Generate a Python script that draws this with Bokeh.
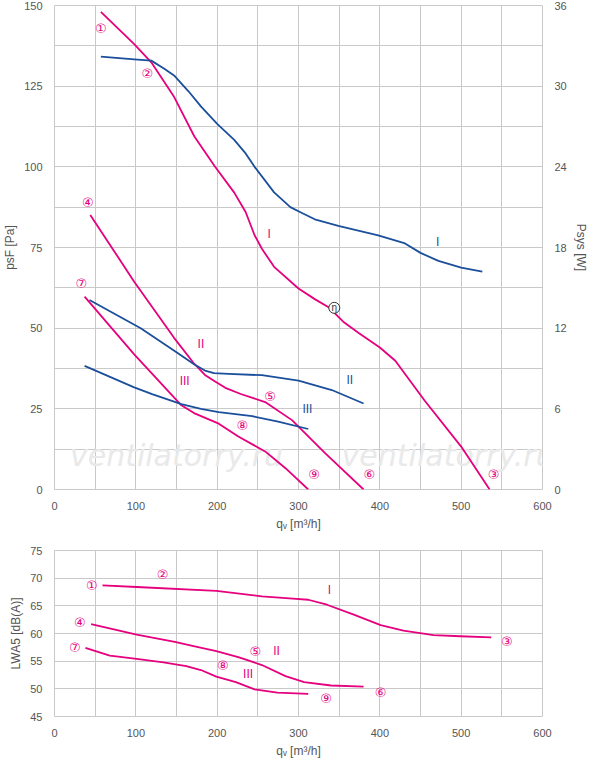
from bokeh.plotting import figure
from bokeh.layouts import column
from bokeh.models import Range1d, LinearAxis, FixedTicker
from bokeh.core.properties import value
from bokeh.embed import file_html
from bokeh.resources import INLINE

PINK = "#e5007d"
BLUE = "#1b4f9b"
GRID = "#c9c9c9"
FONT = "Liberation Sans"

# pressure curves, q [m3/h] -> psF [Pa]
p1_q = [57, 98, 119, 147, 172, 197, 221, 235, 246, 255, 270, 300, 320, 337, 355, 374, 400, 419, 455, 500, 535]
p1_v = [148, 138, 132.4, 121.7, 109.4, 100.2, 92, 86, 78.8, 74.6, 69, 62.3, 59, 56.5, 52, 48.5, 44, 39.9, 27.6, 13.3, 0]
p2_q = [44, 98, 147, 172, 185, 196, 210, 229, 259, 292, 333, 380]
p2_v = [85.1, 64.4, 47, 38.9, 35.5, 33.7, 31.5, 29.6, 27.1, 21.5, 11.2, 0]
p3_q = [37, 98, 156, 173, 202, 226, 259, 284, 312]
p3_v = [59.8, 41.9, 26.1, 23.5, 20.4, 16.4, 11.8, 6.6, 0]

# power curves, q [m3/h] -> Psys [W]
w1_q = [57, 98, 119, 135, 147, 165, 180, 200, 221, 235, 246, 270, 290, 303, 320, 349, 398, 431, 450, 472, 500, 526]
w1_v = [32.2, 32.0, 31.9, 31.3, 30.8, 29.6, 28.5, 27.2, 26.0, 25.0, 24.0, 22.1, 21.0, 20.6, 20.1, 19.6, 18.9, 18.3, 17.6, 17.0, 16.5, 16.2]
w2_q = [43, 106, 150, 172, 185, 196, 214, 255, 300, 341, 380]
w2_v = [14.1, 12.0, 10.2, 9.3, 8.85, 8.65, 8.6, 8.5, 8.1, 7.4, 6.4]
w3_q = [37, 98, 120, 156, 180, 202, 243, 275, 312]
w3_v = [9.2, 7.6, 7.1, 6.35, 6.0, 5.75, 5.45, 5.05, 4.5]

# sound power curves, q [m3/h] -> LWA5 [dB(A)]
l1_q = [59, 101, 199, 255, 293, 312, 335, 368, 401, 429, 466, 499, 537]
l1_v = [68.7, 68.4, 67.7, 66.7, 66.3, 66.1, 65.2, 63.4, 61.5, 60.5, 59.7, 59.5, 59.3]
l2_q = [45, 101, 148, 171, 199, 227, 255, 284, 307, 340, 380]
l2_v = [61.7, 59.8, 58.5, 57.7, 56.8, 55.7, 54.3, 52.3, 51.2, 50.6, 50.4]
l3_q = [38, 68, 101, 134, 162, 180, 199, 223, 246, 274, 312]
l3_v = [57.4, 56.0, 55.4, 54.8, 54.1, 53.4, 52.2, 51.2, 49.9, 49.3, 49.1]

# labels
top_marks = ["①", "②", "④", "⑦", "⑤", "⑧", "⑨", "⑥", "③"]
top_mark_q = [57, 114, 41, 33, 265, 231, 319, 387, 540]
top_mark_v = [143, 129, 89, 63.7, 28.7, 19.8, 4.5, 4.5, 4.5]
top_rom_p = ["I", "II", "III"]
top_rom_p_q = [264, 180, 160]
top_rom_p_v = [79.3, 45, 33.6]
top_rom_w = ["I", "II", "III"]
top_rom_w_q = [471, 363, 311]
top_rom_w_v = [76.6, 34, 25]
eta_q, eta_v = 344, 56.3

bot_marks = ["①", "②", "③", "④", "⑦", "⑤", "⑧", "⑥", "⑨"]
bot_mark_q = [46, 133, 556, 31, 25, 247, 207, 401, 334]
bot_mark_v = [68.7, 70.7, 58.6, 62, 57.5, 56.8, 54.2, 49.4, 48.3]
bot_rom = ["I", "II", "III"]
bot_rom_q = [338, 273, 238]
bot_rom_v = [67.8, 56.9, 52.6]


def style(p, yticks, yminor):
    p.xaxis.ticker = FixedTicker(ticks=list(range(0, 601, 100)), minor_ticks=list(range(0, 601, 50)))
    p.yaxis.ticker = FixedTicker(ticks=yticks, minor_ticks=yminor)
    for g in (p.xgrid, p.ygrid):
        g.grid_line_color = GRID
        g.minor_grid_line_color = GRID
    p.outline_line_color = GRID
    p.xaxis.axis_label = "qᵥ [m³/h]"
    for ax in p.axis:
        ax.axis_line_color = None
        ax.major_tick_line_color = None
        ax.minor_tick_line_color = None
        ax.major_label_text_color = "#555555"
        ax.major_label_text_font = FONT
        ax.major_label_text_font_size = "11px"
        ax.axis_label_text_color = "#555555"
        ax.axis_label_text_font = FONT
        ax.axis_label_text_font_size = "12px"
        ax.axis_label_text_font_style = "normal"
        ax.axis_label_standoff = 4
        ax.major_label_standoff = 6


p = figure(frame_width=488, frame_height=484, x_range=Range1d(0, 600), y_range=Range1d(0, 150),
           output_backend="svg", toolbar_location=None, min_border_top=5, min_border_left=10,
           min_border_right=10, min_border_bottom=10)
p.extra_y_ranges = {"w": Range1d(0, 36)}
right = LinearAxis(y_range_name="w", axis_label="Psys [W]")
p.add_layout(right, "right")
style(p, list(range(0, 151, 25)), [i * 12.5 for i in range(13)])
right.ticker = FixedTicker(ticks=list(range(0, 37, 6)))
p.yaxis[0].axis_label = "psF [Pa]"

for txt, xx in (("ventilatorry.ru", 150), ("ventilatorry.ru", 484)):
    p.text(x=[xx], y=[10.5], text=[txt], text_align="center", text_baseline="middle",
           text_color="#e9e9e9", text_font=value("DejaVu Sans"), text_font_style="italic",
           text_font_size="30px")

for qq, vv in ((p1_q, p1_v), (p2_q, p2_v), (p3_q, p3_v)):
    p.line(qq, vv, line_color=PINK, line_width=1.8, line_join="round")
for qq, vv in ((w1_q, w1_v), (w2_q, w2_v), (w3_q, w3_v)):
    p.line(qq, vv, line_color=BLUE, line_width=1.8, line_join="round", y_range_name="w")

p.text(x=top_mark_q, y=top_mark_v, text=top_marks, text_color=PINK, text_align="center",
       text_baseline="middle", text_font=value("DejaVu Sans"), text_font_size="13px")
p.text(x=top_rom_p_q, y=top_rom_p_v, text=top_rom_p, text_color=PINK, text_align="center",
       text_baseline="middle", text_font=value(FONT), text_font_size="12px")
p.text(x=top_rom_w_q, y=top_rom_w_v, text=top_rom_w, text_color=BLUE, text_align="center",
       text_baseline="middle", text_font=value(FONT), text_font_size="12px")
p.scatter([eta_q], [eta_v], size=11, fill_color="white", line_color="#333333", line_width=1)
p.text(x=[eta_q], y=[eta_v], text=["η"], text_color="#333333", text_align="center",
       text_baseline="middle", text_font=value(FONT), text_font_size="10px")

b = figure(frame_width=488, frame_height=166, x_range=Range1d(0, 600), y_range=Range1d(45, 75),
           output_backend="svg", toolbar_location=None, min_border_top=17, min_border_left=10,
           min_border_right=51, min_border_bottom=10)
style(b, list(range(45, 76, 5)), list(range(45, 76, 5)))
b.yaxis.axis_label = "LWA5 [dB(A)]"
for qq, vv in ((l1_q, l1_v), (l2_q, l2_v), (l3_q, l3_v)):
    b.line(qq, vv, line_color=PINK, line_width=1.8, line_join="round")
b.text(x=bot_mark_q, y=bot_mark_v, text=bot_marks, text_color=PINK, text_align="center",
       text_baseline="middle", text_font=value("DejaVu Sans"), text_font_size="13px")
b.text(x=bot_rom_q, y=bot_rom_v, text=bot_rom, text_color=PINK, text_align="center",
       text_baseline="middle", text_font=value(FONT), text_font_size="12px")

layout = column(p, b, spacing=0)
open("out.html", "w").write(file_html(layout, INLINE))
